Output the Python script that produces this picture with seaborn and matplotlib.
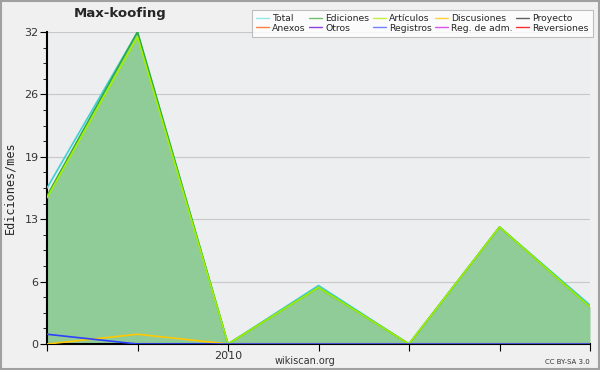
import matplotlib
matplotlib.use("Agg")
import matplotlib.pyplot as plt
import seaborn as sns
import numpy as np
import pandas as pd

months = [0, 1, 2, 3, 4, 5, 6]
tick_labels = ["", "", "2010", "", "", "", ""]
total = [16, 32, 0, 6, 0, 12, 4]
ediciones = [15.2, 32, 0, 5.8, 0, 12, 3.8]
articulos = [15, 31.5, 0, 5.8, 0, 12, 3.8]
discusiones = [0, 1, 0, 0, 0, 0, 0]
registros = [1, 0, 0, 0, 0, 0, 0]

legend_names = ["Total", "Ediciones", "Artículos", "Discusiones", "Proyecto",
                "Anexos", "Otros", "Registros", "Reg. de adm.", "Reversiones"]
legend_colors = ["#90e8e8", "#70c070", "#c0f040", "#ffd040", "#606060",
                 "#ff8040", "#9040e0", "#7080ff", "#e050f0", "#ff3030"]

sns.set_style("white")
plt.rcParams["font.family"] = ["DejaVu Sans"]

fig = plt.figure(figsize=(6, 3.7), dpi=100, facecolor="#f0f0f0")
ax = fig.add_axes([47/600, 26/370, 543/600, 312/370])
ax.set_facecolor("#eceef0")

df = pd.DataFrame({"m": months, "total": total, "ed": ediciones, "art": articulos,
                   "disc": discusiones, "reg": registros})

ax.fill_between(df["m"], df["ed"], color="#90cc98", zorder=1, linewidth=0)
sns.lineplot(data=df, x="m", y="total", color="#40d0d0", lw=1.2, ax=ax, zorder=3)
sns.lineplot(data=df, x="m", y="ed", color="#30a840", lw=1.2, ax=ax, zorder=4)
sns.lineplot(data=df, x="m", y="art", color="#a0f000", lw=1.2, ax=ax, zorder=5)
sns.lineplot(data=df, x="m", y="disc", color="#ffc800", lw=1.2, ax=ax, zorder=6)
sns.lineplot(data=df, x="m", y="reg", color="#3040ff", lw=1.2, ax=ax, zorder=6)

ax.set_xlim(0, 6)
ax.set_ylim(0, 32)
yt = [0, 6.4, 12.8, 19.2, 25.6, 32]
ax.set_yticks(yt)
ax.set_yticklabels(["0", "6", "13", "19", "26", "32"], fontsize=8, color="#333333")
ax.set_yticks(np.arange(0, 32, 6.4/4), minor=True)
ax.set_xticks(months)
ax.set_xticklabels(tick_labels, fontsize=8, color="#333333")
ax.tick_params(axis="y", which="major", length=5, direction="out", left=True, color="black", pad=1)
ax.tick_params(axis="y", which="minor", length=3, direction="out", left=True, color="black")
ax.tick_params(axis="x", which="major", length=5, direction="out", bottom=True, color="black", pad=0)
ax.yaxis.grid(True, color="#c8c8c8", lw=0.8, zorder=0)
ax.set_axisbelow(True)
for s in ["top", "right"]:
    ax.spines[s].set_visible(False)
for s in ["left", "bottom"]:
    ax.spines[s].set_color("black")
    ax.spines[s].set_linewidth(1.5)
ax.set_xlabel("")
ax.set_ylabel("Ediciones/mes", fontsize=8.5, family="DejaVu Sans Mono", labelpad=6)

fig.text(120/600, 1 - 14/370, "Max-koofing", ha="center", va="center", fontsize=9.5, weight="bold")
fig.text(305/600, 1 - 361/370, "wikiscan.org", ha="center", va="center", fontsize=7, color="#333333")
fig.text(590/600, 1 - 362/370, "CC BY-SA 3.0", ha="right", va="center", fontsize=5, color="#333333")

from matplotlib.lines import Line2D
handles = [Line2D([0], [0], color=c, lw=1) for c in legend_colors]
order = []
for col in range(5):
    order += [col, col + 5]
leg = fig.legend([handles[i] for i in order], [legend_names[i] for i in order],
                 ncol=5, loc="upper right", bbox_to_anchor=(593/600, 1 - 10/370),
                 fontsize=6.7, frameon=True, fancybox=False, handlelength=1.4,
                 handletextpad=0.35, columnspacing=0.35, labelspacing=0.05,
                 borderpad=0.45, borderaxespad=0, edgecolor="#b0b0b0")
leg.get_frame().set_linewidth(0.8)

border = plt.Rectangle((0.0015, 0.002), 0.997, 0.996, transform=fig.transFigure,
                       fill=False, edgecolor="#a0a0a0", lw=1.5)
fig.patches.append(border)

fig.savefig("out.png", dpi=100, facecolor=fig.get_facecolor())
